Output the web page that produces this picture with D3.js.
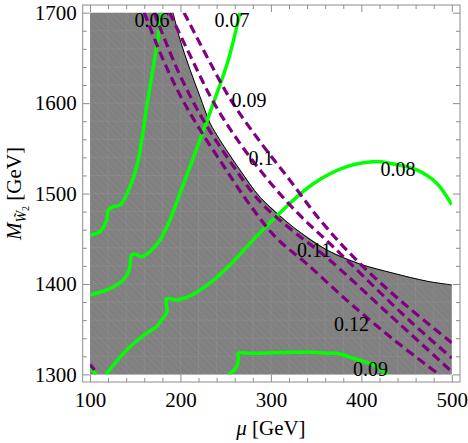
<!DOCTYPE html>
<html>
<head>
<meta charset="utf-8">
<script src="https://cdn.jsdelivr.net/npm/d3@7"></script>
<style>
body { margin: 0; background: #fff; }
text { font-family: "Liberation Serif", "DejaVu Serif", serif; fill: #000; }
</style>
</head>
<body>
<div id="chart"></div>
<script>
// axis ticks
var muTicks = [100, 200, 300, 400, 500];
var mTicks = [1300, 1400, 1500, 1600, 1700];
var minorStep = 20;

// edge of the grey (excluded) region, upper right
var edgeMu = [191.8, 199.6, 210.6, 221.7, 232.7, 243.8, 265.9, 288, 324.6, 362, 398.7, 435, 473, 500];
var edgeM  = [1700, 1670, 1637, 1607, 1578, 1559, 1526, 1496, 1463, 1437.5, 1422, 1412, 1403, 1399];

// purple dashed contours
var p09Mu = [204, 230, 256, 286, 320, 355, 395, 445, 500];
var p09M  = [1700, 1650, 1603, 1560, 1516, 1470, 1426, 1380, 1335];
var p10Mu = [188, 212, 236, 264, 296, 330, 368, 410, 455, 500];
var p10M  = [1700, 1650, 1602, 1558, 1516, 1478, 1442, 1401, 1358, 1318];
var p11Mu = [171, 198, 226, 256, 288, 324, 362, 430, 500];
var p11M  = [1700, 1634, 1580, 1534, 1491, 1459, 1429, 1367, 1303];
var p12Mu = [160, 180, 200, 222, 248, 275, 305, 340, 385, 435, 487];
var p12M  = [1700, 1650, 1608, 1570, 1530, 1490, 1452, 1422, 1381, 1339, 1299];
var pCornerMu = [100, 105];
var pCornerM  = [1311, 1305];

// green contours
var g06Mu = [100, 111.1, 118.5, 120.3, 125.8, 133.2, 138.7, 144.2, 151.6, 157.2, 162.7, 168.2, 173.7, 179.3];
var g06M  = [1454.2, 1457.9, 1470.8, 1481.9, 1485.5, 1487.4, 1495.1, 1507.6, 1529.7, 1559.3, 1596.1, 1629.2, 1662.4, 1700];
var g07Mu = [100, 118.5, 136.8, 143.4, 146.1, 149.8, 157.2, 166.3, 177.4, 188.4, 199.5, 221.6, 236.3, 252.9, 265.8];
var g07M  = [1387.9, 1393.4, 1404.5, 1415.5, 1432.1, 1433.2, 1430.2, 1435.8, 1448.7, 1470.8, 1500.3, 1559.3, 1599.8, 1647.7, 1700];
var g08Mu = [117.7, 140.6, 162.7, 173.7, 179.3, 185.1, 184.6, 196.2, 212.8, 232.7, 254.8, 282.4, 315.6, 346.5, 383.8, 418, 428, 461.2, 483.3, 500];
var g08M  = [1300, 1327, 1345.6, 1352.9, 1360.3, 1369.4, 1383.5, 1382.3, 1387.9, 1401.2, 1421.1, 1451, 1484.1, 1510.6, 1529.7, 1535.5, 1534.2, 1526.1, 1511.4, 1487.4];
var g09Mu = [253.5, 262.2, 264, 264, 276.9, 288, 310.1, 324.8, 346.9, 361.7, 372.7, 391.1, 413.2, 429];
var g09M  = [1300, 1308.6, 1317.9, 1323.4, 1323.4, 1323.4, 1324.1, 1324.5, 1324.5, 1323.4, 1323.4, 1317.9, 1310.5, 1300];
var gCornerMu = [100, 103, 107];
var gCornerM  = [1309, 1304, 1300];

// contour labels
var labelText = ["0.06", "0.07", "0.09", "0.1", "0.08", "0.11", "0.12", "0.09"];
var labelMu   = [168.5, 257, 275.8, 289.1, 440.5, 347.7, 389.1, 410.1];
var labelM    = [1691.4, 1691.9, 1604, 1538.8, 1526.6, 1437.1, 1355.3, 1305.5];

function zipPts(a, b)
{
	return a.map(function(d, i) { return [d, b[i]]; });
}

var W = 468, H = 443;

var x = d3.scaleLinear().domain([100, 500]).range([90, 451.8]);
var y = d3.scaleLinear().domain([1300, 1700]).range([374.4, 12.7]);

// frame sits a little outside the data range (plot range padding)
var frame = {left: 82.7, right: 460, top: 5, bottom: 382};

var svg = d3.select("#chart").append("svg")
	.attr("width", W)
	.attr("height", H);

var defs = svg.append("defs");

defs.append("clipPath")
	.attr("id", "plotclip")
	.append("rect")
		.attr("x", x(100))
		.attr("y", y(1700))
		.attr("width", x(500) - x(100))
		.attr("height", y(1300) - y(1700));

// faint diagonal hatching seen in the grey fill
var hatch = defs.append("pattern")
	.attr("id", "hatch")
	.attr("patternUnits", "userSpaceOnUse")
	.attr("width", 7)
	.attr("height", 7);
hatch.append("rect").attr("width", 7).attr("height", 7).attr("fill", "#808080");
hatch.append("path")
	.attr("d", "M0,0L7,7M-1,6L1,8M6,-1L8,1")
	.attr("stroke", "#8a8a8a")
	.attr("stroke-width", 0.8);

var line = d3.line()
	.x(function(d) { return x(d[0]); })
	.y(function(d) { return y(d[1]); });

var smooth = d3.line()
	.curve(d3.curveCatmullRom.alpha(0.5))
	.x(function(d) { return x(d[0]); })
	.y(function(d) { return y(d[1]); });

// grey region: left/top/bottom edges of the range plus the curved edge
var edge = zipPts(edgeMu, edgeM);
var region = [[500, 1300], [100, 1300], [100, 1700]].concat(edge);

defs.append("clipPath")
	.attr("id", "greyclip")
	.append("path")
		.attr("d", line(region) + "Z");

svg.append("path")
	.attr("d", line(region) + "Z")
	.attr("fill", "url(#hatch)")
	.attr("stroke", "none");

// faint mesh inside the grey region
var mesh = svg.append("g")
	.attr("clip-path", "url(#greyclip)")
	.attr("stroke", "#969696")
	.attr("stroke-opacity", 0.4)
	.attr("stroke-width", 1);

d3.range(100, 501, minorStep).forEach(function(v)
{
	mesh.append("line")
		.attr("x1", x(v)).attr("x2", x(v))
		.attr("y1", y(1300)).attr("y2", y(1700));
});
d3.range(1300, 1701, minorStep).forEach(function(v)
{
	mesh.append("line")
		.attr("x1", x(100)).attr("x2", x(500))
		.attr("y1", y(v)).attr("y2", y(v));
});

svg.append("path")
	.attr("d", smooth(edge))
	.attr("fill", "none")
	.attr("stroke", "#000")
	.attr("stroke-width", 1);

// contours
var curves = svg.append("g").attr("clip-path", "url(#plotclip)");

var purple = [zipPts(p09Mu, p09M), zipPts(p10Mu, p10M), zipPts(p11Mu, p11M), zipPts(p12Mu, p12M), zipPts(pCornerMu, pCornerM)];
var green = [zipPts(g06Mu, g06M), zipPts(g07Mu, g07M), zipPts(g08Mu, g08M), zipPts(g09Mu, g09M), zipPts(gCornerMu, gCornerM)];

curves.selectAll(".green")
	.data(green)
	.enter().append("path")
		.attr("class", "green")
		.attr("d", smooth)
		.attr("fill", "none")
		.attr("stroke", "#00ff00")
		.attr("stroke-width", 3.5)
		.attr("stroke-linejoin", "round");

curves.selectAll(".purple")
	.data(purple)
	.enter().append("path")
		.attr("class", "purple")
		.attr("d", smooth)
		.attr("fill", "none")
		.attr("stroke", "#800080")
		.attr("stroke-width", 3.2)
		.attr("stroke-dasharray", "9,5");

// contour labels
svg.selectAll(".clabel")
	.data(labelText)
	.enter().append("text")
		.attr("class", "clabel")
		.attr("x", function(d, i) { return x(labelMu[i]); })
		.attr("y", function(d, i) { return y(labelM[i]); })
		.attr("dy", "0.35em")
		.attr("text-anchor", "middle")
		.style("font-size", "20px")
		.text(function(d) { return d; });

// frame
svg.append("rect")
	.attr("x", frame.left)
	.attr("y", frame.top)
	.attr("width", frame.right - frame.left)
	.attr("height", frame.bottom - frame.top)
	.attr("fill", "none")
	.attr("stroke", "#8c8c8c")
	.attr("stroke-width", 1);

// ticks point inward on all four sides
var minorMu = d3.range(100, 501, minorStep).filter(function(v) { return muTicks.indexOf(v) < 0; });
var minorM = d3.range(1300, 1701, minorStep).filter(function(v) { return mTicks.indexOf(v) < 0; });

function addAxis(axis, tx, ty, labels)
{
	var g = svg.append("g")
		.attr("class", "axis")
		.attr("transform", "translate(" + tx + "," + ty + ")")
		.call(axis);
	g.select(".domain").remove();
	g.selectAll(".tick line").attr("stroke", "#8c8c8c");
	if(!labels) g.selectAll(".tick text").remove();
	else g.selectAll(".tick text")
		.attr("fill", "#000")
		.style("font-family", "'Liberation Serif', serif")
		.style("font-size", "21px");
	return g;
}

addAxis(d3.axisBottom(x).tickValues(muTicks).tickSizeInner(-7).tickSizeOuter(0).tickPadding(10).tickFormat(d3.format("d")), 0, frame.bottom, true);
addAxis(d3.axisBottom(x).tickValues(minorMu).tickSizeInner(-4).tickSizeOuter(0), 0, frame.bottom, false);
addAxis(d3.axisTop(x).tickValues(muTicks).tickSizeInner(-7).tickSizeOuter(0), 0, frame.top, false);
addAxis(d3.axisTop(x).tickValues(minorMu).tickSizeInner(-4).tickSizeOuter(0), 0, frame.top, false);

addAxis(d3.axisLeft(y).tickValues(mTicks).tickSizeInner(-7).tickSizeOuter(0).tickPadding(6).tickFormat(d3.format("d")), frame.left, 0, true);
addAxis(d3.axisLeft(y).tickValues(minorM).tickSizeInner(-4).tickSizeOuter(0), frame.left, 0, false);
addAxis(d3.axisRight(y).tickValues(mTicks).tickSizeInner(-7).tickSizeOuter(0), frame.right, 0, false);
addAxis(d3.axisRight(y).tickValues(minorM).tickSizeInner(-4).tickSizeOuter(0), frame.right, 0, false);

// axis titles
var xt = svg.append("text")
	.attr("x", x(300))
	.attr("y", 435)
	.attr("text-anchor", "middle")
	.style("font-size", "21px");
xt.append("tspan").style("font-style", "italic").text("\u03bc");
xt.append("tspan").text(" [GeV]");

var yt = svg.append("text")
	.attr("transform", "translate(21," + y(1500) + ") rotate(-90)")
	.attr("text-anchor", "middle")
	.style("font-size", "21px");
yt.append("tspan").style("font-style", "italic").text("M");
yt.append("tspan").style("font-style", "italic").style("font-size", "14px").attr("dy", 5).text("W\u0303");
yt.append("tspan").style("font-size", "10px").attr("dy", 3).text("2");
yt.append("tspan").attr("dy", -8).text(" [GeV]");
</script>
</body>
</html>
